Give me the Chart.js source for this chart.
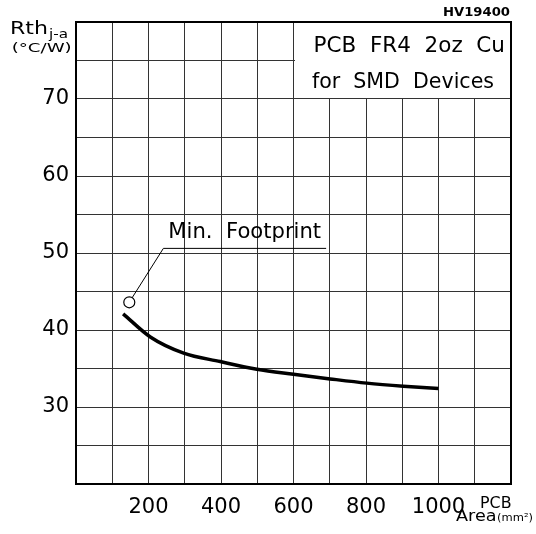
<!DOCTYPE html>
<html>
<head>
<meta charset="utf-8">
<script src="https://cdn.jsdelivr.net/npm/chart.js@4.4.1/dist/chart.umd.min.js"></script>
<style>
  html, body { margin: 0; padding: 0; background: #fff; }
  canvas { display: block; }
</style>
</head>
<body>
<canvas id="c" width="536" height="534"></canvas>
<script>
// ---- data ----
const areaValues = [130, 205, 297, 398, 499, 600, 701, 802, 903, 1000];      // PCB area (mm²)
const rthValues  = [42.1, 39.1, 37.0, 35.9, 34.9, 34.25, 33.65, 33.1, 32.7, 32.4]; // Rth j-a (°C/W)
const footprintArea = [147];
const footprintRth  = [43.6];
const leaderArea = [147, 241, 690];
const leaderRth  = [43.6, 50.6, 50.6];
const xTickLabels = [200, 400, 600, 800, 1000];
const yTickLabels = [30, 40, 50, 60, 70];

const FONT = "'DejaVu Sans', 'Liberation Sans', sans-serif";

function toPoints(xs, ys) { return xs.map((x, i) => ({ x: x, y: ys[i] })); }

// draw text stretched horizontally to span [left, right]
function drawFitted(ctx, text, left, right, y, font, baseline) {
  ctx.save();
  ctx.font = font;
  const w = ctx.measureText(text).width;
  const sx = (right - left) / w;
  ctx.translate(left, y);
  ctx.scale(sx, 1);
  ctx.textAlign = 'left';
  ctx.textBaseline = baseline || 'middle';
  ctx.fillStyle = '#000';
  ctx.fillText(text, 0, 0);
  ctx.restore();
}

const framePlugin = {
  id: 'frame',
  beforeDatasetsDraw(chart) {
    const { ctx, chartArea: a, scales: { x, y } } = chart;
    const bx = Math.round(x.getPixelForValue(600)) + 1;
    const by = Math.round(y.getPixelForValue(70)) - 1;
    ctx.save();
    ctx.fillStyle = '#fff';
    ctx.fillRect(bx, a.top, a.right - bx, by - a.top);
    ctx.strokeStyle = '#000';
    ctx.lineWidth = 2;
    ctx.strokeRect(a.left, a.top, a.right - a.left, a.bottom - a.top);
    ctx.restore();
  },
  afterDraw(chart) {
    const { ctx, chartArea: a, scales: { x, y } } = chart;
    const x600 = x.getPixelForValue(600);
    const y70 = y.getPixelForValue(70);
    drawFitted(ctx, 'PCB  FR4  2oz  Cu', x600 + 20, a.right - 6, a.top + 24, '22px ' + FONT);
    drawFitted(ctx, 'for  SMD  Devices', x600 + 18.5, a.right - 17, y70 - 17, '22px ' + FONT);
    const lx1 = x.getPixelForValue(leaderArea[1]);
    const lx2 = x.getPixelForValue(leaderArea[2]);
    const ly = y.getPixelForValue(leaderRth[1]);
    drawFitted(ctx, 'Min.  Footprint', lx1 + 5, lx2 - 5, ly - 16, '21px ' + FONT);
    drawFitted(ctx, 'Rth', 10, 48, 34.3, '17px ' + FONT, 'alphabetic');
    drawFitted(ctx, 'j-a', 49, 68, 37.5, '12px ' + FONT, 'alphabetic');
    drawFitted(ctx, '(°C/W)', 11.7, 71.7, 49, '13px ' + FONT);
    drawFitted(ctx, 'HV19400', 443, 510, 13, 'bold 13px ' + FONT);
    drawFitted(ctx, 'PCB', 480, 511.5, 504, '15px ' + FONT);
    drawFitted(ctx, 'Area', 456, 496.5, 517.5, '15px ' + FONT);
    drawFitted(ctx, '(mm²)', 497, 533, 518, '11px ' + FONT);
  }
};

new Chart(document.getElementById('c'), {
  type: 'scatter',
  data: {
    datasets: [
      {
        label: 'Min. Footprint',
        data: toPoints(footprintArea, footprintRth),
        pointRadius: 5.5,
        pointBackgroundColor: '#fff',
        pointBorderColor: '#000',
        pointBorderWidth: 1.2,
        showLine: false
      },
      {
        label: 'leader',
        data: toPoints(leaderArea, leaderRth),
        showLine: true,
        borderColor: '#000',
        borderWidth: 1,
        pointRadius: 0,
        tension: 0
      },
      {
        label: 'Rth j-a',
        data: toPoints(areaValues, rthValues),
        showLine: true,
        borderColor: '#000',
        borderWidth: 3.5,
        pointRadius: 0,
        cubicInterpolationMode: 'monotone',
        borderCapStyle: 'butt'
      }
    ]
  },
  options: {
    responsive: false,
    devicePixelRatio: 1,
    animation: false,
    layout: { padding: { top: 22, right: 25, left: 0, bottom: 0 } },
    plugins: { legend: { display: false }, tooltip: { enabled: false } },
    scales: {
      x: {
        type: 'linear',
        min: 0, max: 1200,
        afterFit: s => { s.height = 50; },
        ticks: {
          stepSize: 100,
          autoSkip: false,
          maxRotation: 0,
          padding: 11,
          color: '#000',
          font: { family: FONT, size: 21 },
          callback: v => xTickLabels.includes(v) ? String(v) : ''
        },
        grid: { color: '#333', lineWidth: 1, drawTicks: false },
        border: { display: true, color: '#000', width: 2 }
      },
      y: {
        type: 'linear',
        min: 20, max: 80,
        afterFit: s => { s.width = 76; },
        ticks: {
          stepSize: 5,
          autoSkip: false,
          padding: 7,
          color: '#000',
          font: { family: FONT, size: 21 },
          callback: v => yTickLabels.includes(v) ? String(v) : ''
        },
        grid: { color: '#333', lineWidth: 1, drawTicks: false },
        border: { display: true, color: '#000', width: 2 }
      }
    }
  },
  plugins: [framePlugin]
});
</script>
</body>
</html>
